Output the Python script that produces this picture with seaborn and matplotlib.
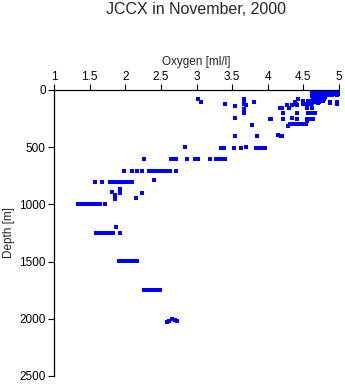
import matplotlib
matplotlib.use("Agg")
import matplotlib.pyplot as plt
import seaborn as sns
import pandas as pd

# --- data (oxygen [ml/l], depth [m]) ---
surface_oxygen = [4.64, 4.68, 4.72, 4.76, 4.80, 4.86, 4.90, 4.94, 4.98,
                  4.62, 4.66, 4.70, 4.74, 4.78, 4.88, 4.92, 4.96, 5.00,
                  4.65, 4.69, 4.73, 4.77, 4.81, 4.87, 4.91, 4.95,
                  4.63, 4.67, 4.71, 4.75, 4.79, 4.89, 4.93, 4.99,
                  4.64, 4.68, 4.72, 4.76, 4.80, 4.86, 4.90, 4.97,
                  4.62, 4.66, 4.70, 4.74, 4.78,
                  4.65, 4.69, 4.73, 4.77, 4.80,
                  4.63, 4.67, 4.71, 4.75, 4.79,
                  4.64, 4.68, 4.72, 4.76,
                  4.62, 4.66, 4.70, 4.74, 4.78,
                  4.64, 4.68, 4.72, 4.88, 4.97,
                  4.62, 4.70]
surface_depth = [5, 5, 5, 5, 5, 5, 5, 5, 5,
                 15, 15, 15, 15, 15, 15, 15, 15, 15,
                 25, 25, 25, 25, 25, 25, 25, 25,
                 35, 35, 35, 35, 35, 35, 35, 35,
                 45, 45, 45, 45, 45, 45, 45, 45,
                 55, 55, 55, 55, 55,
                 65, 65, 65, 65, 65,
                 75, 75, 75, 75, 75,
                 85, 85, 85, 85,
                 95, 95, 95, 95, 95,
                 108, 108, 108, 102, 108,
                 117, 117]

upper_oxygen = [4.17, 4.27, 4.30, 4.34, 4.43, 4.39, 4.41, 4.50, 4.55, 4.58,
                4.61, 4.55, 4.62, 4.55, 4.60, 4.64, 4.41, 4.21, 4.34, 4.55,
                4.31, 4.35, 4.38, 4.42, 4.46, 4.50, 4.54, 4.29, 4.04, 4.88,
                4.97, 4.20, 4.41, 4.21, 4.56, 4.62, 4.66, 4.15, 4.18, 4.20,
                4.57, 4.50, 4.38, 4.03]
upper_depth = [155, 131, 160, 131, 82, 120, 131, 120, 120, 118,
               120, 160, 160, 251, 251, 251, 251, 251, 248, 270,
               300, 300, 300, 300, 300, 300, 300, 315, 254, 118,
               120, 155, 204, 204, 204, 204, 204, 395, 400, 405,
               100, 100, 108, 250]

mid_oxygen = [3.02, 3.07, 3.40, 3.54, 3.54, 3.54, 3.66, 3.67, 3.67, 3.70,
              3.66, 3.66, 3.81, 3.78, 3.85,
              2.84, 3.34, 3.38, 3.52, 3.63, 3.70, 3.83, 3.86, 3.90, 3.94, 3.96,
              2.27, 2.64, 2.68, 2.71, 2.86, 2.98, 3.02, 3.19, 3.28, 3.32, 3.36, 3.40]
mid_depth = [82, 108, 122, 143, 248, 405, 82, 105, 120, 131,
             163, 204, 108, 303, 405,
             502, 505, 510, 505, 510, 500, 505, 505, 505, 505, 505,
             607, 607, 607, 607, 607, 607, 607, 607, 607, 607, 607, 607]

deep_oxygen = [1.98, 2.09, 2.17, 2.24, 2.33, 2.36, 2.39, 2.45, 2.50, 2.55, 2.60, 2.63, 2.71,
               1.58, 1.68, 1.79, 1.83, 1.87, 1.91, 1.95, 1.98, 2.02, 2.06, 2.10,
               1.82, 1.85, 1.85, 1.85, 1.93, 1.93, 1.93, 2.15, 2.24, 2.41,
               1.33, 1.36, 1.39, 1.42, 1.45, 1.48, 1.51, 1.55, 1.60, 1.65, 1.72,
               1.87,
               1.59, 1.63, 1.67, 1.71, 1.75, 1.79, 1.83, 1.93,
               1.91, 1.95, 1.99, 2.03, 2.07, 2.11, 2.16,
               2.26, 2.30, 2.34, 2.38, 2.43, 2.49,
               2.58, 2.62, 2.66, 2.70, 2.73]
deep_depth = [706, 706, 706, 706, 706, 706, 706, 706, 706, 706, 706, 706, 706,
              808, 808, 808, 808, 808, 808, 808, 808, 808, 808, 808,
              895, 920, 940, 955, 865, 885, 900, 940, 898, 790,
              1000, 1000, 1000, 1000, 1000, 1000, 1000, 1000, 1000, 1000, 1000,
              1196,
              1248, 1248, 1248, 1248, 1248, 1248, 1248, 1248,
              1496, 1496, 1496, 1496, 1496, 1496, 1496,
              1744, 1744, 1744, 1744, 1744, 1744,
              2025, 2015, 2005, 2010, 2020]

x_ticks = [1, 1.5, 2, 2.5, 3, 3.5, 4, 4.5, 5]
x_tick_labels = ["1", "1.5", "2", "2.5", "3", "3.5", "4", "4.5", "5"]
y_ticks = [0, 500, 1000, 1500, 2000, 2500]

df = pd.DataFrame({
    "oxygen": surface_oxygen + upper_oxygen + mid_oxygen + deep_oxygen,
    "depth": surface_depth + upper_depth + mid_depth + deep_depth,
})

sns.set_style("white")
plt.rcParams["font.family"] = ["Liberation Sans", "DejaVu Sans"]

fig = plt.figure(figsize=(3.45, 3.84), dpi=100)
ax = fig.add_axes([54 / 345, 1 - 376 / 384, 285 / 345, 286 / 384])

sns.scatterplot(data=df, x="oxygen", y="depth", ax=ax, marker="s",
                s=6.5, color="#0000ff", linewidth=0, legend=False)

ax.set_xlim(1, 5)
ax.set_ylim(2500, 0)
ax.xaxis.tick_top()
ax.xaxis.set_label_position("top")
ax.set_xticks(x_ticks)
ax.set_xticklabels(x_tick_labels)
ax.set_yticks(y_ticks)
ax.tick_params(axis="both", direction="out", length=4, width=0.8,
               labelsize=8.5, colors="black", pad=2)
ax.tick_params(axis="x", top=True, bottom=False, pad=1)
ax.tick_params(axis="y", left=True)
for side in ["bottom", "right"]:
    ax.spines[side].set_visible(False)
for side in ["top", "left"]:
    ax.spines[side].set_color("black")
    ax.spines[side].set_linewidth(0.9)

ax.set_xlabel("Oxygen [ml/l]", fontsize=8.5, labelpad=4)
ax.set_ylabel("Depth [m]", fontsize=8.5, labelpad=3)
ax.grid(False)

fig.text(196 / 345, 1 - 9 / 384, "JCCX in November, 2000", ha="center",
         va="center", fontsize=11.5)

fig.savefig("out.png", dpi=100)
